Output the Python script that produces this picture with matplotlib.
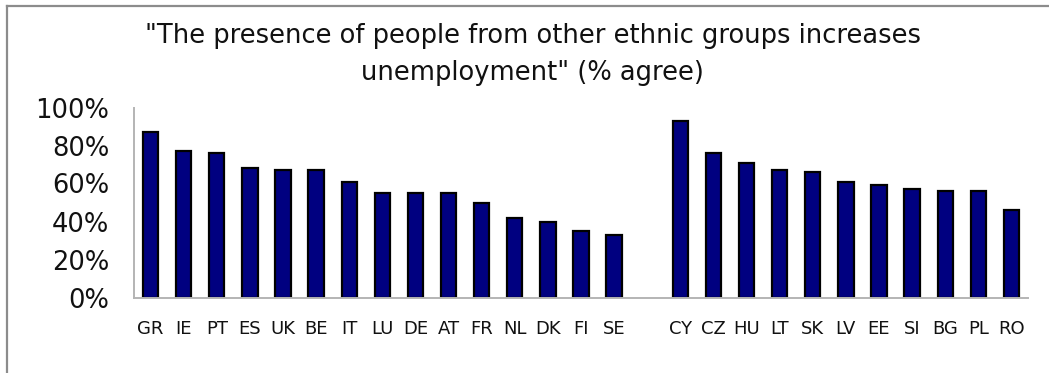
import matplotlib.pyplot as plt
from matplotlib.lines import Line2D
import numpy as np

# country codes: old member states, then new member states
old_members = ["GR", "IE", "PT", "ES", "UK", "BE", "IT", "LU", "DE", "AT",
               "FR", "NL", "DK", "FI", "SE"]
old_agree = [87, 77, 76, 68, 67, 67, 61, 55, 55, 55, 50, 42, 40, 35, 33]

new_members = ["CY", "CZ", "HU", "LT", "SK", "LV", "EE", "SI", "BG", "PL", "RO"]
new_agree = [93, 76, 71, 67, 66, 61, 59, 57, 56, 56, 46]

# one empty slot separates the two groups
labels = old_members + [""] + new_members
values = np.array(old_agree + [np.nan] + new_agree) / 100.0
x = np.arange(len(labels))

fig = plt.figure(figsize=(10.49, 3.73), dpi=100)
ax = fig.add_axes([134 / 1049, 1 - 297.5 / 373, (1028 - 134) / 1049, 190 / 373])

ax.bar(x, values, width=0.46, color="#000080", edgecolor="black", linewidth=1.6)

ax.set_xlim(-0.5, len(labels) - 0.5)
ax.set_ylim(0, 1.0)
ax.set_yticks(np.arange(0, 1.01, 0.2))
ax.set_yticklabels([f"{int(round(v * 100))}%" for v in np.arange(0, 1.01, 0.2)],
                   fontsize=18.5, color="#111111")
ax.set_xticks(x)
ax.set_xticklabels(labels, fontsize=13, color="#111111")
ax.tick_params(axis="y", length=0, pad=18)
ax.tick_params(axis="x", length=0, pad=16)

for side in ["top", "right"]:
    ax.spines[side].set_visible(False)
for side in ["left", "bottom"]:
    ax.spines[side].set_color("#b4b4b4")
    ax.spines[side].set_linewidth(1.4)

fig.text(0.508, 1 - 36 / 373,
         "\"The presence of people from other ethnic groups increases",
         ha="center", va="center", fontsize=18.5, color="#111111")
fig.text(0.508, 1 - 73 / 373, "unemployment\" (% agree)",
         ha="center", va="center", fontsize=18.5, color="#111111")

# frame lines along the top and left of the chart area
fig.add_artist(Line2D([7 / 1049, 1.0], [1 - 5.5 / 373, 1 - 5.5 / 373],
                      transform=fig.transFigure, color="#8c8c8c", linewidth=1.6))
fig.add_artist(Line2D([7 / 1049, 7 / 1049], [0, 1 - 5.5 / 373],
                      transform=fig.transFigure, color="#8c8c8c", linewidth=1.6))

fig.savefig("out.png", dpi=100)
